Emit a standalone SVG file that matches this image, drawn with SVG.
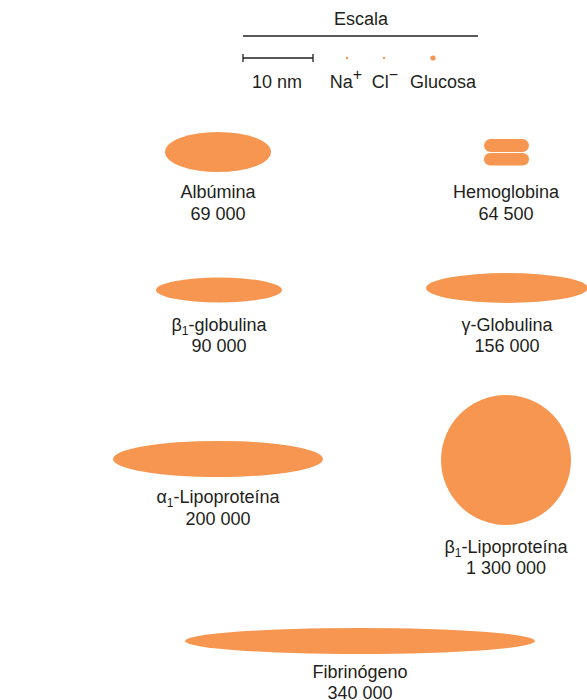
<svg xmlns="http://www.w3.org/2000/svg" width="587" height="700" viewBox="0 0 587 700">
<style>
text{font-family:"Liberation Sans",Arial,sans-serif;font-size:18px;fill:#231f20;text-anchor:middle}
.s{fill:#f79650}
.ln{stroke:#231f20;stroke-width:1.3;fill:none}
</style>
<rect width="587" height="700" fill="#fff"/>
<g id="escala">
<text x="361" y="25">Escala</text>
<line class="ln" x1="243" y1="36" x2="478" y2="36"/>
<line class="ln" x1="243" y1="58" x2="313" y2="58"/>
<line class="ln" x1="243" y1="54" x2="243" y2="62"/>
<line class="ln" x1="313" y1="54" x2="313" y2="62"/>
<circle class="s" cx="347" cy="58" r="1.2"/>
<circle class="s" cx="384" cy="58" r="1.2"/>
<circle class="s" cx="433" cy="58" r="2.6"/>
<text x="277" y="88">10 nm</text>
<text x="346" y="88">Na<tspan dy="-8" font-size="16">+</tspan></text>
<text x="385" y="88">Cl<tspan dy="-8" font-size="16">−</tspan></text>
<text x="443" y="88">Glucosa</text>
</g>
<g id="albumina">
<ellipse class="s" cx="218" cy="152" rx="53" ry="20"/>
<text x="218" y="198">Albúmina</text>
<text x="218" y="220">69 000</text>
</g>
<g id="hemoglobina">
<rect class="s" x="484" y="139" width="45" height="13" rx="6.5"/>
<rect class="s" x="484" y="153" width="45" height="12.5" rx="6.25"/>
<text x="506" y="198">Hemoglobina</text>
<text x="506" y="220">64 500</text>
</g>
<g id="beta1globulina">
<ellipse class="s" cx="219" cy="290" rx="63" ry="12.5"/>
<text x="219" y="331">β<tspan dy="4" font-size="12">1</tspan><tspan dy="-4">-globulina</tspan></text>
<text x="219" y="352">90 000</text>
</g>
<g id="gammaglobulina">
<ellipse class="s" cx="507" cy="288" rx="81" ry="15"/>
<text x="507" y="331">γ-Globulina</text>
<text x="507" y="352">156 000</text>
</g>
<g id="alfa1lipoproteina">
<ellipse class="s" cx="218" cy="459" rx="105" ry="18"/>
<text x="218" y="503">α<tspan dy="4" font-size="12">1</tspan><tspan dy="-4">-Lipoproteína</tspan></text>
<text x="218" y="525">200 000</text>
</g>
<g id="beta1lipoproteina">
<circle class="s" cx="506" cy="460" r="65"/>
<text x="506" y="553">β<tspan dy="4" font-size="12">1</tspan><tspan dy="-4">-Lipoproteína</tspan></text>
<text x="506" y="574">1 300 000</text>
</g>
<g id="fibrinogeno">
<ellipse class="s" cx="360" cy="641" rx="175" ry="13"/>
<text x="360" y="678">Fibrinógeno</text>
<text x="360" y="699">340 000</text>
</g>
<g id="connectors"/>
</svg>
